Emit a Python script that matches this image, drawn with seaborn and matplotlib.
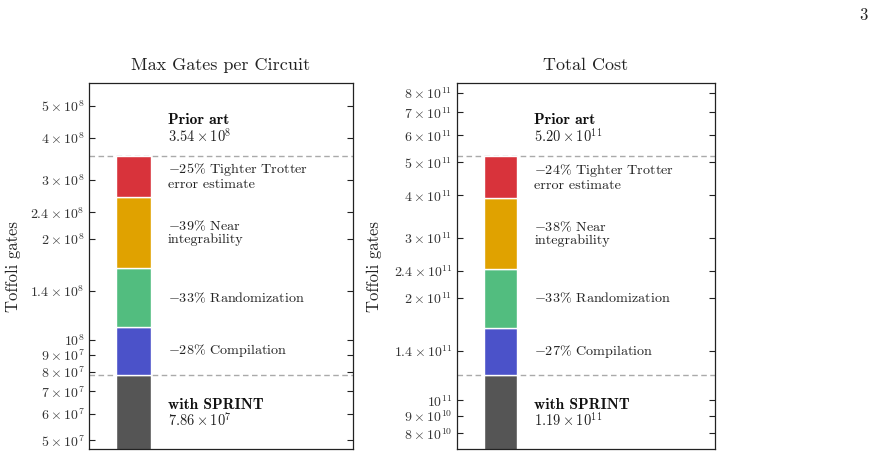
import matplotlib
matplotlib.use("Agg")
import matplotlib.pyplot as plt
import matplotlib.transforms as mtransforms
from matplotlib.ticker import FixedLocator, FixedFormatter, NullLocator
import numpy as np
import seaborn as sns

# --- data ---
titles = ["Max Gates per Circuit", "Total Cost"]

# cumulative levels: with SPRINT -> +compilation -> +randomization -> +near int. -> prior art
gates_levels = [7.86e7, 1.09e8, 1.63e8, 2.67e8, 3.54e8]
cost_levels = [1.19e11, 1.63e11, 2.43e11, 3.93e11, 5.20e11]

gates_pcts = [28, 33, 39, 25]
cost_pcts = [27, 33, 38, 24]

step_names = ["Compilation", "Randomization", "Near\nintegrability",
              "Tighter Trotter\nerror estimate"]
step_colors = ["#4b52c9", "#52bd7f", "#e0a200", "#d8333b"]
base_color = "#555555"

gates_ticks = [5e7, 6e7, 7e7, 8e7, 9e7, 1e8, 1.4e8, 2e8, 2.4e8, 3e8, 4e8, 5e8]
gates_ticklabels = [r"$5\times10^{7}$", r"$6\times10^{7}$", r"$7\times10^{7}$",
                    r"$8\times10^{7}$", r"$9\times10^{7}$", r"$10^{8}$",
                    r"$1.4\times10^{8}$", r"$2\times10^{8}$", r"$2.4\times10^{8}$",
                    r"$3\times10^{8}$", r"$4\times10^{8}$", r"$5\times10^{8}$"]
cost_ticks = [8e10, 9e10, 1e11, 1.4e11, 2e11, 2.4e11, 3e11, 4e11, 5e11, 6e11, 7e11, 8e11]
cost_ticklabels = [r"$8\times10^{10}$", r"$9\times10^{10}$", r"$10^{11}$",
                   r"$1.4\times10^{11}$", r"$2\times10^{11}$", r"$2.4\times10^{11}$",
                   r"$3\times10^{11}$", r"$4\times10^{11}$", r"$5\times10^{11}$",
                   r"$6\times10^{11}$", r"$7\times10^{11}$", r"$8\times10^{11}$"]

gates_ylim = (4.70e7, 5.85e8)
cost_ylim = (7.18e10, 8.56e11)

sns.set_style("ticks")
plt.rcParams["font.family"] = "serif"
plt.rcParams["font.serif"] = ["cmr10", "DejaVu Serif"]
plt.rcParams["mathtext.fontset"] = "cm"
plt.rcParams["axes.unicode_minus"] = False
plt.rcParams["axes.formatter.use_mathtext"] = True


def sci(v):
    exp = int(np.floor(np.log10(v)))
    return r"$%.2f\times10^{%d}$" % (v / 10 ** exp, exp)


W, H = 875, 457
fig = plt.figure(figsize=(W / 100, H / 100), dpi=100)

panels = [
    (titles[0], gates_levels, gates_pcts, gates_ticks, gates_ticklabels, gates_ylim,
     [88.7, 449.3, 264.6, 366.6], -0.256),
    (titles[1], cost_levels, cost_pcts, cost_ticks, cost_ticklabels, cost_ylim,
     [456.7, 449.3, 258.3, 366.6], -0.289),
]

bar_x, bar_w, txt_x = 0.17, 0.13, 0.30

for title, levels, pcts, ticks, ticklabels, ylim, box, ylab_x in panels:
    x0, y1, w, h = box
    ax = fig.add_axes([x0 / W, (H - y1) / H, w / W, h / H])
    ax.set_yscale("log")
    ax.set_xlim(0, 1)
    ax.set_ylim(*ylim)
    blend = mtransforms.blended_transform_factory(ax.transAxes, ax.transData)

    # base bar (with SPRINT)
    ax.bar(bar_x, levels[0] - ylim[0] * 0.5, bottom=ylim[0] * 0.5, width=bar_w,
           color=base_color, edgecolor="white", linewidth=1, zorder=2)
    # reduction steps
    for i in range(4):
        lo, hi = levels[i], levels[i + 1]
        ax.bar(bar_x, hi - lo, bottom=lo, width=bar_w, color=step_colors[i],
               edgecolor="white", linewidth=1, zorder=2)
        ax.text(txt_x, np.sqrt(lo * hi), r"$-%d\%%$ %s" % (pcts[i], step_names[i]),
                transform=blend, ha="left", va="center", fontsize=10.2,
                linespacing=1.05, color="#222222")

    for lv in (levels[0], levels[-1]):
        ax.axhline(lv, color="#aaaaaa", lw=1, ls=(0, (4, 2.5)), zorder=1)

    ax.text(txt_x, 0.899, "Prior art", transform=ax.transAxes, ha="left", va="center",
            fontsize=11.2, family="cmb10", color="#111111")
    ax.text(txt_x, 0.856, sci(levels[-1]), transform=ax.transAxes, ha="left",
            va="center", fontsize=10.4, color="#222222")
    ax.text(txt_x, 0.122, "with SPRINT", transform=ax.transAxes, ha="left",
            va="center", fontsize=11.2, family="cmb10", color="#111111")
    ax.text(txt_x, 0.081, sci(levels[0]), transform=ax.transAxes, ha="left",
            va="center", fontsize=10.4, color="#222222")

    ax.yaxis.set_major_locator(FixedLocator(ticks))
    ax.yaxis.set_major_formatter(FixedFormatter(ticklabels))
    ax.yaxis.set_minor_locator(NullLocator())
    ax.set_xticks([])
    ax.tick_params(axis="y", which="major", direction="in", left=True, right=True,
                   length=4, width=0.8, labelsize=10, pad=3, colors="#222222",
                   labelcolor="#333333")
    for s in ax.spines.values():
        s.set_linewidth(0.9)
        s.set_color("#222222")

    ax.set_title(title, fontsize=13, pad=9, color="#222222")
    ax.set_ylabel("Toffoli gates", fontsize=12, color="#222222")
    ax.yaxis.set_label_coords(ylab_x, 0.5)

fig.text(863 / W, 1 - 15 / H, "3", ha="center", va="center", fontsize=12, color="#222222")

fig.savefig("out.png", dpi=100)
